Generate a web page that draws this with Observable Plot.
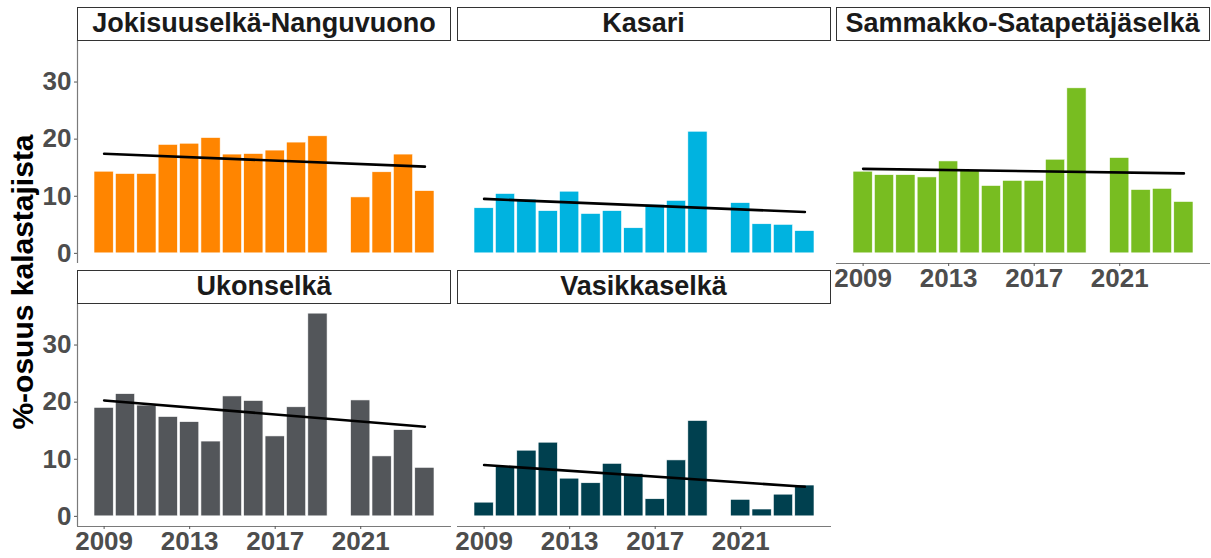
<!DOCTYPE html>
<html>
<head>
<meta charset="utf-8">
<script src="https://cdn.jsdelivr.net/npm/d3@7"></script>
<script src="https://cdn.jsdelivr.net/npm/@observablehq/plot@0.6"></script>
<style>
  html, body { margin: 0; padding: 0; background: #fff; }
  #chart { position: relative; width: 1211px; height: 558px; font-family: "Liberation Sans", Arial, sans-serif; }
  .panel { position: absolute; }
  .strip { position: absolute; box-sizing: border-box; border: 1.5px solid #333; background: #fff;
           font-weight: bold; font-size: 27px; color: #1a1a1a; text-align: center; line-height: 30px; white-space: nowrap; }
  .ytitle { position: absolute; font-weight: bold; font-size: 30px; color: #000; white-space: nowrap;
            transform: translate(-50%, -50%) rotate(-90deg); }
</style>
</head>
<body>
<div id="chart"></div>
<script>
// ---- data ----
const areas = ["Jokisuuselkä-Nanguvuono", "Kasari", "Sammakko-Satapetäjäselkä", "Ukonselkä", "Vasikkaselkä"];
const years = [2009, 2010, 2011, 2012, 2013, 2014, 2015, 2016, 2017, 2018, 2019, 2021, 2022, 2023, 2024];
const jokisuuselka = [14.3, 13.9, 13.9, 19.0, 19.2, 20.2, 17.3, 17.4, 18.0, 19.4, 20.5, 9.8, 14.2, 17.3, 10.9];
const kasari = [7.9, 10.4, 9.4, 7.4, 10.8, 6.9, 7.4, 4.4, 8.5, 9.2, 21.3, 8.8, 5.1, 5.0, 3.9];
const sammakko = [14.3, 13.7, 13.7, 13.3, 16.1, 14.5, 11.8, 12.7, 12.7, 16.4, 28.9, 16.7, 11.1, 11.3, 9.0];
const ukonselka = [19.0, 21.4, 19.4, 17.4, 16.5, 13.1, 21.0, 20.2, 14.0, 19.1, 35.5, 20.3, 10.5, 15.1, 8.5];
const vasikkaselka = [2.4, 8.7, 11.5, 12.9, 6.6, 5.8, 9.2, 7.4, 3.0, 9.8, 16.7, 2.9, 1.2, 3.8, 5.4];
const series = [jokisuuselka, kasari, sammakko, ukonselka, vasikkaselka];
const colors = ["#ff8500", "#00b3e0", "#78bd21", "#53565a", "#00404f"];
const xTicks = [2009, 2013, 2017, 2021];
const yTicks = [0, 10, 20, 30];
const yTitle = "%-osuus kalastajista";

// ---- layout ----
const PW = 374, PH = 223;
const FONT = "'Liberation Sans', Arial, sans-serif";
// ggplot-like expanded domains (5%)
const xDomain = [2008.55 - 0.795, 2024.45 + 0.795];
const yDomain = [-1.775, 37.275];
const layout = [
  {left: 0,     top: 40,  ml: 77, mb: 0,  yAxis: true,  xAxis: false, stripTop: 7},
  {left: 456.5, top: 40,  ml: 0,  mb: 0,  yAxis: false, xAxis: false, stripTop: 7},
  {left: 835.7, top: 40,  ml: 0,  mb: 32, yAxis: false, xAxis: true,  stripTop: 7},
  {left: 0,     top: 303, ml: 77, mb: 32, yAxis: true,  xAxis: true,  stripTop: 270},
  {left: 456.5, top: 303, ml: 0,  mb: 32, yAxis: false, xAxis: true,  stripTop: 270}
];

const chart = document.getElementById("chart");

areas.forEach((area, i) => {
  const L = layout[i];
  const data = years.map((yr, j) => ({year: yr, value: series[i][j]}));
  const marks = [
    Plot.rect(data, {x1: d => d.year - 0.45, x2: d => d.year + 0.45, y1: 0, y2: "value",
                     fill: colors[i], stroke: "#ffffff", strokeWidth: 0.6}),
    Plot.linearRegressionY(data, {x: "year", y: "value", stroke: "#000", strokeWidth: 2.6, ci: 0})
  ];
  if (L.yAxis) {
    marks.push(Plot.ruleX([xDomain[0]], {stroke: "#7a7a7a", strokeWidth: 1.2}));
    marks.push(Plot.axisY(yTicks, {anchor: "left", label: null, tickSize: 3, tickPadding: 3, fontSize: 26,
                                    fontWeight: "bold", fill: "#4d4d4d", stroke: "#555",
                                    tickFormat: d => String(d)}));
  }
  if (L.xAxis) {
    marks.push(Plot.ruleY([yDomain[0]], {stroke: "#7a7a7a", strokeWidth: 1.2}));
    marks.push(Plot.axisX(xTicks, {anchor: "bottom", label: null, tickSize: 3, tickPadding: 2, fontSize: 26,
                                    fontWeight: "bold", fill: "#4d4d4d", stroke: "#555",
                                    tickFormat: d => String(d)}));
  }
  const svg = Plot.plot({
    width: L.ml + PW,
    height: PH + L.mb,
    marginLeft: L.ml, marginRight: 0, marginTop: 0, marginBottom: L.mb,
    x: {domain: xDomain, axis: null, label: null},
    y: {domain: yDomain, axis: null, label: null},
    style: {fontFamily: FONT, background: "transparent", overflow: "visible", maxWidth: "none"},
    marks
  });
  const wrap = document.createElement("div");
  wrap.className = "panel";
  wrap.style.left = L.left + "px";
  wrap.style.top = L.top + "px";
  wrap.appendChild(svg);
  chart.appendChild(wrap);

  const strip = document.createElement("div");
  strip.className = "strip";
  strip.style.left = (L.left + L.ml) + "px";
  strip.style.top = L.stripTop + "px";
  strip.style.width = PW + "px";
  strip.style.height = "33.5px";
  strip.textContent = area;
  chart.appendChild(strip);
});

const yt = document.createElement("div");
yt.className = "ytitle";
yt.style.left = "23px";
yt.style.top = "282px";
yt.textContent = yTitle;
chart.appendChild(yt);
</script>
</body>
</html>
